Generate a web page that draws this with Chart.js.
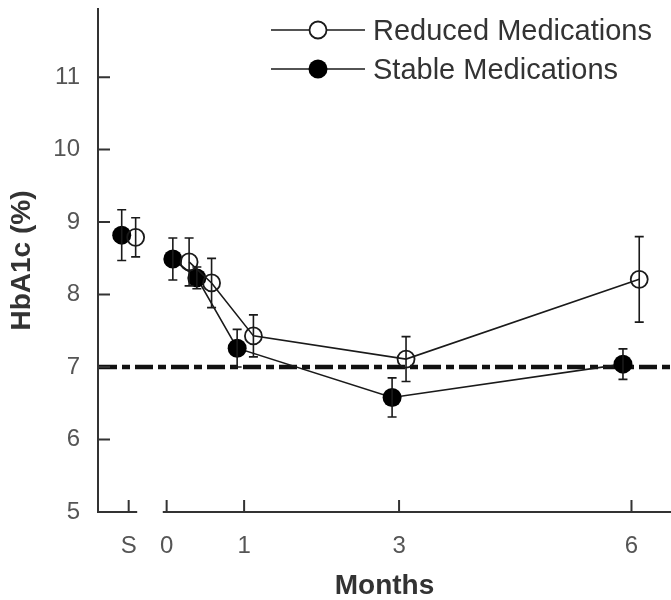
<!DOCTYPE html>
<html>
<head>
<meta charset="utf-8">
<script src="https://cdn.jsdelivr.net/npm/chart.js@4/dist/chart.umd.min.js"></script>
<style>
    html, body { margin: 0; padding: 0; background: #fff; }
    #wrap { width: 671px; height: 600px; }
</style>
</head>
<body>
<div id="wrap"><canvas id="hba1cChart" width="671" height="600"></canvas></div>
<script>
// Tick positions on the month axis (S = screening visit, drawn left of the break)
const tickMonths = [-0.49, 0, 1, 3, 6];
const tickLabels = ['S', '0', '1', '3', '6'];
const yTicks = [5, 6, 7, 8, 9, 10, 11];

// Reduced medications group: month, mean HbA1c, error
const reducedX = [-0.40, 0.29, 0.58, 1.12, 3.09, 6.10];
const reducedY = [8.79, 8.45, 8.16, 7.43, 7.11, 8.21];
const reducedErr = [0.27, 0.33, 0.34, 0.29, 0.31, 0.59];

// Stable medications group
const stableX = [-0.58, 0.08, 0.39, 0.91, 2.91, 5.89];
const stableY = [8.82, 8.49, 8.23, 7.26, 6.58, 7.04];
const stableErr = [0.35, 0.29, 0.15, 0.26, 0.27, 0.21];

const targetHbA1c = 7;

const FONT = "'Liberation Sans', Arial, Helvetica, sans-serif";
const INK = '#1a1a1a';
const AXIS = '#333';

function toPoints(xs, ys) {
    return xs.map((x, i) => ({ x: x, y: ys[i] }));
}

// no line between the screening point and month 0
const skipFirst = ctx => ctx.p0DataIndex === 0 ? 'rgba(0,0,0,0)' : INK;

// Dash-dot target line plus the broken x axis and inward tick marks
const axisDecor = {
    id: 'axisDecor',
    beforeDatasetsDraw(chart) {
        const { ctx, chartArea, scales } = chart;
        const x = scales.x, y = scales.y;
        ctx.save();
        // target line at 7%
        ctx.strokeStyle = '#111';
        ctx.lineWidth = 4.5;
        ctx.setLineDash([18, 5, 8, 5]);
        ctx.beginPath();
        ctx.moveTo(chartArea.left + 1, y.getPixelForValue(targetHbA1c));
        ctx.lineTo(chartArea.right, y.getPixelForValue(targetHbA1c));
        ctx.stroke();
        ctx.setLineDash([]);

        // broken x axis
        const yb = chartArea.bottom;
        ctx.strokeStyle = AXIS;
        ctx.lineWidth = 2;
        ctx.beginPath();
        ctx.moveTo(chartArea.left, yb);
        ctx.lineTo(x.getPixelForValue(-0.38), yb);
        ctx.moveTo(x.getPixelForValue(-0.05), yb);
        ctx.lineTo(chartArea.right, yb);
        ctx.stroke();

        // inward ticks
        ctx.beginPath();
        tickMonths.forEach(m => {
            const px = x.getPixelForValue(m);
            ctx.moveTo(px, yb);
            ctx.lineTo(px, yb - 12);
        });
        yTicks.forEach(v => {
            const py = y.getPixelForValue(v);
            ctx.moveTo(chartArea.left, py);
            ctx.lineTo(chartArea.left + 12, py);
        });
        ctx.stroke();
        ctx.restore();
    },
    afterDatasetsDraw(chart) {
        // error bars
        const { ctx, scales } = chart;
        const x = scales.x, y = scales.y;
        ctx.save();
        ctx.strokeStyle = INK;
        ctx.lineWidth = 1.6;
        const groups = [[reducedX, reducedY, reducedErr], [stableX, stableY, stableErr]];
        groups.forEach(([xs, ys, es]) => {
            xs.forEach((m, i) => {
                const px = x.getPixelForValue(m);
                const top = y.getPixelForValue(ys[i] + es[i]);
                const bot = y.getPixelForValue(ys[i] - es[i]);
                ctx.beginPath();
                ctx.moveTo(px, top);
                ctx.lineTo(px, bot);
                ctx.moveTo(px - 4.5, top);
                ctx.lineTo(px + 4.5, top);
                ctx.moveTo(px - 4.5, bot);
                ctx.lineTo(px + 4.5, bot);
                ctx.stroke();
            });
        });
        ctx.restore();
    },
    afterDraw(chart) {
        // legend box in the upper right
        const { ctx } = chart;
        const rows = [
            { label: 'Reduced Medications', y: 30, filled: false },
            { label: 'Stable Medications', y: 69, filled: true }
        ];
        ctx.save();
        rows.forEach(r => {
            ctx.strokeStyle = INK;
            ctx.lineWidth = 1.6;
            ctx.beginPath();
            ctx.moveTo(271, r.y);
            ctx.lineTo(365, r.y);
            ctx.stroke();
            ctx.beginPath();
            if (r.filled) {
                ctx.arc(318, r.y, 9.5, 0, Math.PI * 2);
                ctx.fillStyle = '#000';
                ctx.fill();
            } else {
                ctx.arc(318, r.y, 8.5, 0, Math.PI * 2);
                ctx.fillStyle = '#fff';
                ctx.fill();
                ctx.lineWidth = 1.8;
                ctx.stroke();
            }
            ctx.fillStyle = '#333';
            ctx.font = '29px ' + FONT;
            ctx.textBaseline = 'middle';
            ctx.textAlign = 'left';
            ctx.fillText(r.label, 373, r.y + 2);
        });
        ctx.restore();
    }
};

const ctx = document.getElementById('hba1cChart').getContext('2d');
new Chart(ctx, {
    type: 'scatter',
    data: {
        datasets: [
            {
                label: 'Reduced Medications',
                data: toPoints(reducedX, reducedY),
                showLine: true,
                borderColor: INK,
                borderWidth: 1.6,
                segment: { borderColor: skipFirst },
                pointRadius: 8.5,
                pointBorderWidth: 1.8,
                pointBorderColor: INK,
                pointBackgroundColor: 'rgba(255,255,255,0)'
            },
            {
                label: 'Stable Medications',
                data: toPoints(stableX, stableY),
                showLine: true,
                borderColor: INK,
                borderWidth: 1.6,
                segment: { borderColor: skipFirst },
                pointRadius: 9.5,
                pointBorderWidth: 0,
                pointBackgroundColor: '#000'
            }
        ]
    },
    options: {
        responsive: false,
        animation: false,
        layout: { autoPadding: false, padding: { top: 9, right: 0, left: 0, bottom: 0 } },
        plugins: {
            legend: { display: false },
            tooltip: { enabled: false }
        },
        scales: {
            x: {
                type: 'linear',
                min: -0.886,
                max: 6.51,
                afterBuildTicks: s => { s.ticks = tickMonths.map(v => ({ value: v })); },
                afterFit: s => {
                    s.height = 88;
                    s.paddingLeft = 0;
                    s.paddingRight = 0;
                },
                border: { display: false },
                grid: { display: false, drawTicks: false },
                ticks: {
                    autoSkip: false,
                    maxRotation: 0,
                    padding: 20,
                    color: '#555',
                    font: { family: FONT, size: 24 },
                    callback: v => tickLabels[tickMonths.indexOf(v)]
                },
                title: {
                    display: true,
                    text: 'Months',
                    color: '#333',
                    padding: { top: 0, bottom: 0 },
                    font: { family: FONT, size: 28, weight: 'bold', lineHeight: 1 }
                }
            },
            y: {
                min: 5,
                max: 11.94,
                afterBuildTicks: s => { s.ticks = yTicks.map(v => ({ value: v })); },
                afterFit: s => {
                    s.width = 98;
                    s.paddingTop = 0;
                    s.paddingBottom = 0;
                },
                border: { display: true, color: AXIS, width: 2 },
                grid: { display: false, drawTicks: false },
                ticks: {
                    padding: 18,
                    color: '#555',
                    font: { family: FONT, size: 24 }
                },
                title: {
                    display: true,
                    text: 'HbA1c (%)',
                    color: '#333',
                    padding: { top: 8, bottom: 0 },
                    font: { family: FONT, size: 28, weight: 'bold', lineHeight: 1 }
                }
            }
        }
    },
    plugins: [axisDecor]
});
</script>
</body>
</html>
